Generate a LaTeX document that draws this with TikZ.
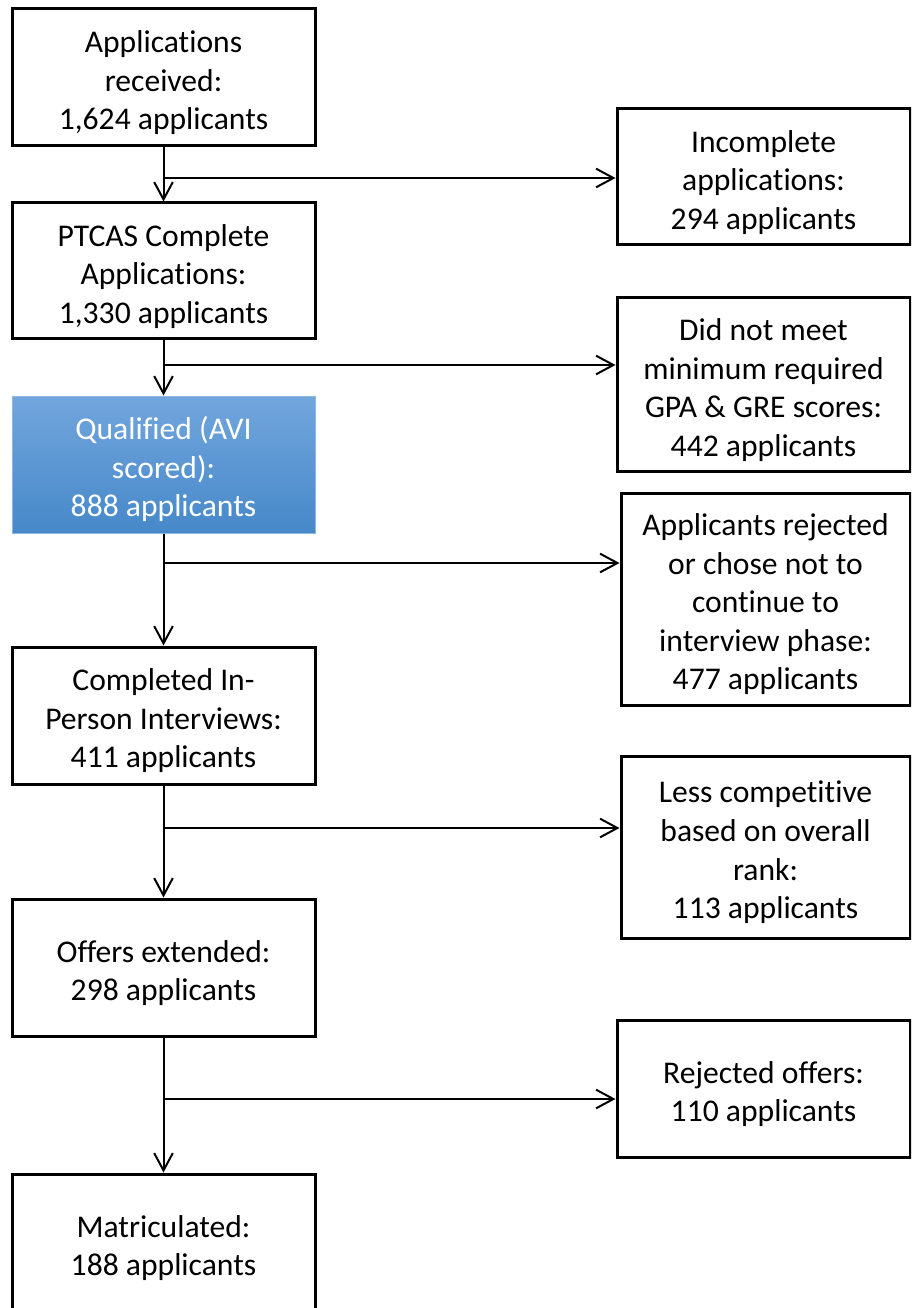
\documentclass[tikz,border=0pt]{standalone}
\usepackage{fontspec}
\setmainfont{Carlito}[Ligatures=NoCommon]
\usetikzlibrary{arrows.meta}

\definecolor{qtop}{RGB}{114,166,221}
\definecolor{qbot}{RGB}{70,136,201}
\definecolor{qedge}{RGB}{140,182,228}

\newcommand{\tp}{\rule{0pt}{24.5pt}}

\tikzset{
  box/.style={draw,line width=2.25pt,align=center,inner sep=0pt,
    font=\fontsize{23.7}{28.9}\selectfont},
  left box/.style={box,minimum width=227.25pt,minimum height=102.75pt},
  side box/.style={box,minimum width=219.75pt},
  arr/.style={-{Straight Barb[length=13pt,width=14pt]},line width=1.5pt}
}

\begin{document}
\begin{tikzpicture}[x=0.75pt,y=-0.75pt]

\useasboundingbox (0,0) rectangle (911,1308);
\clip (0,0) rectangle (911,1308);

% main column
\node[left box] (recv) at (163.5,77.5) {\tp Applications\\received:\\1,624 applicants};
\node[left box,minimum height=102pt] (ptcas) at (163.5,271) {\tp PTCAS Complete\\Applications:\\1,330 applicants};
\node[left box,draw=qedge,line width=0.75pt,top color=qtop,bottom color=qbot,text=white] (qual) at (163.5,464.5) {\tp Qualified (AVI\\scored):\\888 applicants};
\node[left box] (inter) at (163.5,715.5) {\tp Completed In-\\Person Interviews:\\411 applicants};
\node[left box] (offer) at (163.5,967.5) {\tp Offers extended:\\298 applicants};
\node[left box] (matr) at (163.5,1242.5) {\tp Matriculated:\\188 applicants};

% drop-outs
\node[side box,minimum height=102pt] (incomp) at (763.5,177) {\tp Incomplete\\applications:\\294 applicants};
\node[side box,minimum height=129.75pt] (gpa) at (763.5,384.5) {\tp Did not meet\\minimum required\\GPA \& GRE scores:\\442 applicants};
\node[side box,minimum width=216.75pt,minimum height=159pt] (rej) at (765.5,599) {\tp Applicants rejected\\or chose not to\\continue to\\interview phase:\\477 applicants};
\node[side box,minimum width=216.75pt,minimum height=136.5pt] (rank) at (765.5,847) {\tp Less competitive\\based on overall\\rank:\\113 applicants};
\node[side box,minimum height=102.75pt] (decl) at (763.5,1088.5) {\tp Rejected offers:\\110 applicants};

\coordinate (j1) at (165,178);
\coordinate (j2) at (165,365);
\coordinate (j3) at (165,563);
\coordinate (j4) at (163,828);
\coordinate (j5) at (164,1099);

\draw[arr] (recv.south) -- (ptcas.north);
\draw[arr] (ptcas.south) -- (qual.north);
\draw[arr] (qual.south) -- (inter.north);
\draw[arr] (inter.south) -- (offer.north);
\draw[arr] (offer.south) -- (matr.north);

\draw[arr] (j1) -- (j1 -| incomp.west);
\draw[arr] (j2) -- (j2 -| gpa.west);
\draw[arr] (j3) -- (j3 -| rej.west);
\draw[arr] (j4) -- (j4 -| rank.west);
\draw[arr] (j5) -- (j5 -| decl.west);

\end{tikzpicture}
\end{document}
